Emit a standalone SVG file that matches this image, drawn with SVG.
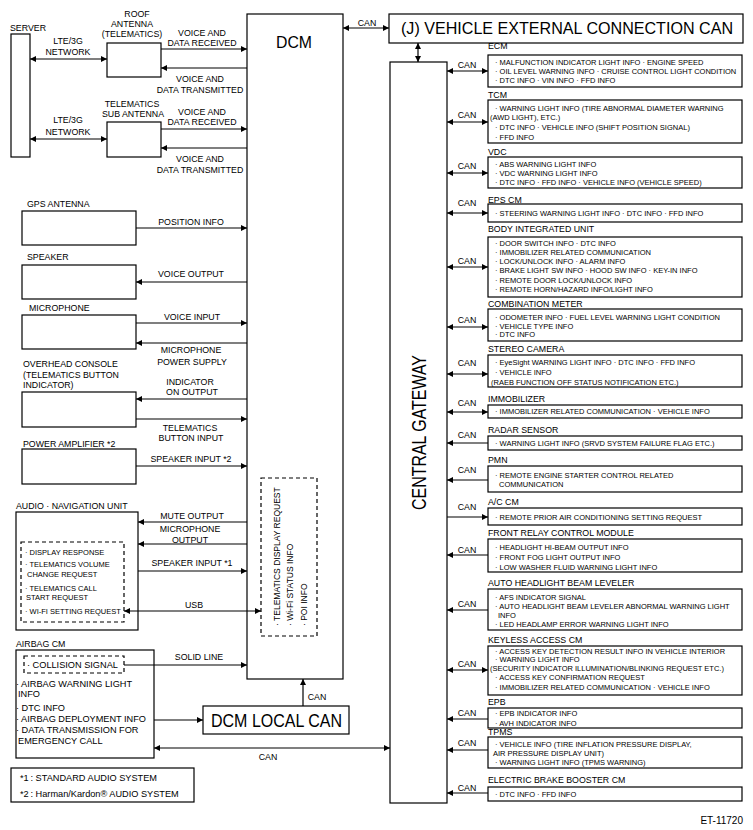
<svg xmlns="http://www.w3.org/2000/svg" width="753" height="830" viewBox="0 0 753 830">
<style>
.b{fill:none;stroke:#000;stroke-width:1.2}
.d{fill:none;stroke:#000;stroke-width:1.2;stroke-dasharray:4 3}
.l{fill:none;stroke:#000;stroke-width:1.2}
text{font-family:"Liberation Sans",Arial,sans-serif;fill:#000}
.t{font-size:8.8px}
.m{font-size:8.8px;text-anchor:middle}
.s{font-size:7.5px}
.a{font-size:9.2px}
.r{font-size:8.5px}
.big{font-size:19px}
</style>
<defs>
<marker id="ah" viewBox="0 0 6 6" refX="6" refY="3" markerWidth="6" markerHeight="6" markerUnits="userSpaceOnUse" orient="auto-start-reverse">
<path d="M0,0 L6,3 L0,6 z" fill="#000"/>
</marker>
</defs>
<rect width="753" height="830" fill="#fff"/>

<g id="server">
<rect class="b" x="11" y="34" width="19" height="123"/>
<text class="t" x="10" y="31">SERVER</text>
</g>

<g id="roof-antenna">
<rect class="b" x="107" y="43" width="54" height="34"/>
<text class="m" x="137" y="16.5">ROOF</text>
<text class="m" x="132" y="26.5">ANTENNA</text>
<text class="m" x="132" y="36.5">(TELEMATICS)</text>
</g>

<g id="sub-antenna">
<rect class="b" x="107" y="122" width="54" height="35"/>
<text class="m" x="132" y="106.5">TELEMATICS</text>
<text class="m" x="133" y="116.5">SUB ANTENNA</text>
</g>

<g id="dcm">
<rect class="b" x="247" y="14" width="96" height="665"/>
<text x="276" y="48" textLength="36" lengthAdjust="spacingAndGlyphs" style="font-size:17px">DCM</text>
<rect class="d" x="261" y="478" width="56" height="158"/>
<text class="r" transform="translate(280,626) rotate(-90)">· TELEMATICS DISPLAY REQUEST</text>
<text class="r" transform="translate(293,626) rotate(-90)">· Wi-Fi STATUS INFO</text>
<text class="r" transform="translate(307,626) rotate(-90)">· POI INFO</text>
</g>

<g id="vec-can">
<rect class="b" x="389" y="14" width="354" height="29"/>
<text x="401" y="34" textLength="332" lengthAdjust="spacingAndGlyphs" style="font-size:16.5px">(J) VEHICLE EXTERNAL CONNECTION CAN</text>
</g>

<g id="central-gateway">
<rect class="b" x="390" y="62" width="57" height="741"/>
<text transform="translate(426,510) rotate(-90)" textLength="155" lengthAdjust="spacingAndGlyphs" style="font-size:20px">CENTRAL GATEWAY</text>
</g>

<g id="gps-antenna">
<rect class="b" x="22" y="211" width="114" height="34"/>
<text class="t" x="27" y="206.5">GPS ANTENNA</text>
</g>

<g id="speaker">
<rect class="b" x="22" y="265" width="114" height="34"/>
<text class="t" x="27" y="259.5">SPEAKER</text>
</g>

<g id="microphone">
<rect class="b" x="22" y="315" width="114" height="34"/>
<text class="t" x="29" y="310.5">MICROPHONE</text>
</g>

<g id="overhead-console">
<rect class="b" x="22" y="392" width="114" height="35"/>
<text class="t" x="23" y="366.5">OVERHEAD CONSOLE</text>
<text class="t" x="23" y="377.5">(TELEMATICS BUTTON</text>
<text class="t" x="23" y="387.5">INDICATOR)</text>
</g>

<g id="power-amplifier">
<rect class="b" x="22" y="449" width="114" height="35"/>
<text class="t" x="23" y="446.5">POWER AMPLIFIER  *2</text>
</g>

<g id="audio-navigation">
<rect class="b" x="16" y="512" width="122" height="118"/>
<text class="t" x="16" y="508.5">AUDIO · NAVIGATION UNIT</text>
<rect class="d" x="21" y="542" width="103" height="80"/>
<text class="s" x="25" y="555">· DISPLAY RESPONSE</text>
<text class="s" x="25" y="567">· TELEMATICS VOLUME</text>
<text class="s" x="27" y="577">CHANGE REQUEST</text>
<text class="s" x="25" y="591">· TELEMATICS CALL</text>
<text class="s" x="26" y="600">START REQUEST</text>
<text class="s" x="25" y="614">· WI-FI SETTING REQUEST</text>
</g>

<g id="airbag-cm">
<rect class="b" x="16" y="650" width="138" height="108"/>
<text class="t" x="16" y="646.5">AIRBAG CM</text>
<rect class="d" x="24" y="656" width="100" height="17"/>
<text class="a" x="27" y="668.3">· COLLISION SIGNAL</text>
<text class="a" x="16" y="687.3">· AIRBAG WARNING LIGHT</text>
<text class="a" x="18" y="697.3">INFO</text>
<text class="a" x="16" y="711.3">· DTC INFO</text>
<text class="a" x="16" y="722.3">· AIRBAG DEPLOYMENT INFO</text>
<text class="a" x="16" y="733.3">· DATA TRANSMISSION FOR</text>
<text class="a" x="18" y="744.3">EMERGENCY CALL</text>
</g>

<g id="dcm-local-can">
<rect class="b" x="203" y="706" width="146" height="28"/>
<text x="211" y="727" textLength="131" lengthAdjust="spacingAndGlyphs" style="font-size:18px">DCM LOCAL CAN</text>
</g>

<g id="legend">
<rect class="b" x="11" y="768" width="183" height="34"/>
<text class="a" x="20" y="780.5">*1</text>
<text class="a" x="30.5" y="780.5">:  STANDARD AUDIO SYSTEM</text>
<text class="a" x="20" y="796.5">*2</text>
<text class="a" x="30.5" y="796.5">:  Harman/Kardon® AUDIO SYSTEM</text>
</g>

<g id="ecm">
<text class="t" x="488" y="48.5">ECM</text>
<rect class="b" x="488" y="55" width="254" height="32"/>
<text class="s" x="495" y="64.6">· MALFUNCTION INDICATOR LIGHT INFO · ENGINE SPEED</text>
<text class="s" x="495" y="73.6">· OIL LEVEL WARNING INFO · CRUISE CONTROL LIGHT CONDITION</text>
<text class="s" x="495" y="82.6">· DTC INFO · VIN INFO · FFD INFO</text>
</g>

<g id="tcm">
<text class="t" x="488" y="97.5">TCM</text>
<rect class="b" x="488" y="100" width="254" height="43"/>
<text class="s" x="495" y="110.6">· WARNING LIGHT INFO (TIRE ABNORMAL DIAMETER WARNING</text>
<text class="s" x="490" y="119.6">(AWD LIGHT), ETC.)</text>
<text class="s" x="495" y="129.6">· DTC INFO · VEHICLE INFO (SHIFT POSITION SIGNAL)</text>
<text class="s" x="495" y="139.6">· FFD INFO</text>
</g>

<g id="vdc">
<text class="t" x="488" y="154.5">VDC</text>
<rect class="b" x="488" y="157" width="254" height="31"/>
<text class="s" x="495" y="166.6">· ABS WARNING LIGHT INFO</text>
<text class="s" x="495" y="175.6">· VDC WARNING LIGHT INFO</text>
<text class="s" x="495" y="184.6">· DTC INFO · FFD INFO · VEHICLE INFO (VEHICLE SPEED)</text>
</g>

<g id="eps-cm">
<text class="t" x="488" y="202.5">EPS CM</text>
<rect class="b" x="488" y="204" width="254" height="18"/>
<text class="s" x="495" y="215.6">· STEERING WARNING LIGHT INFO · DTC INFO · FFD INFO</text>
</g>

<g id="body-integrated-unit">
<text class="t" x="488" y="231.5">BODY INTEGRATED UNIT</text>
<rect class="b" x="488" y="237" width="254" height="60"/>
<text class="s" x="495" y="245.6">· DOOR SWITCH INFO · DTC INFO</text>
<text class="s" x="495" y="254.6">· IMMOBILIZER RELATED COMMUNICATION</text>
<text class="s" x="495" y="263.6">· LOCK/UNLOCK INFO · ALARM INFO</text>
<text class="s" x="495" y="272.6">· BRAKE LIGHT SW INFO · HOOD SW INFO · KEY-IN INFO</text>
<text class="s" x="495" y="282.6">· REMOTE DOOR LOCK/UNLOCK INFO</text>
<text class="s" x="495" y="291.6">· REMOTE HORN/HAZARD INFO/LIGHT INFO</text>
</g>

<g id="combination-meter">
<text class="t" x="488" y="306.5">COMBINATION METER</text>
<rect class="b" x="488" y="309" width="254" height="32"/>
<text class="s" x="495" y="319.6">· ODOMETER INFO · FUEL LEVEL WARNING LIGHT CONDITION</text>
<text class="s" x="495" y="328.6">· VEHICLE TYPE INFO</text>
<text class="s" x="495" y="336.6">· DTC INFO</text>
</g>

<g id="stereo-camera">
<text class="t" x="488" y="351.5">STEREO CAMERA</text>
<rect class="b" x="488" y="355" width="254" height="32"/>
<text class="s" x="495" y="364.6">· EyeSight WARNING LIGHT INFO · DTC INFO · FFD INFO</text>
<text class="s" x="495" y="374.6">· VEHICLE INFO</text>
<text class="s" x="491" y="384.6">(RAEB FUNCTION OFF STATUS NOTIFICATION ETC.)</text>
</g>

<g id="immobilizer">
<text class="t" x="488" y="401.5">IMMOBILIZER</text>
<rect class="b" x="488" y="405" width="254" height="13"/>
<text class="s" x="495" y="414.4">· IMMOBILIZER RELATED COMMUNICATION · VEHICLE INFO</text>
</g>

<g id="radar-sensor">
<text class="t" x="488" y="432.5">RADAR SENSOR</text>
<rect class="b" x="488" y="436" width="254" height="14"/>
<text class="s" x="495" y="445.5">· WARNING LIGHT INFO (SRVD SYSTEM FAILURE FLAG ETC.)</text>
</g>

<g id="pmn">
<text class="t" x="488" y="462.5">PMN</text>
<rect class="b" x="488" y="466" width="254" height="26"/>
<text class="s" x="495" y="477.6">· REMOTE ENGINE STARTER CONTROL RELATED</text>
<text class="s" x="499" y="486.6">COMMUNICATION</text>
</g>

<g id="ac-cm">
<text class="t" x="488" y="504.5">A/C CM</text>
<rect class="b" x="488" y="508" width="254" height="17"/>
<text class="s" x="495" y="519.6">· REMOTE PRIOR AIR CONDITIONING SETTING REQUEST</text>
</g>

<g id="front-relay-control-module">
<text class="t" x="488" y="535.5">FRONT RELAY CONTROL MODULE</text>
<rect class="b" x="488" y="539" width="254" height="33"/>
<text class="s" x="495" y="549.6">· HEADLIGHT HI-BEAM OUTPUT INFO</text>
<text class="s" x="495" y="559.6">· FRONT FOG LIGHT OUTPUT INFO</text>
<text class="s" x="495" y="569.6">· LOW WASHER FLUID WARNING LIGHT INFO</text>
</g>

<g id="auto-headlight-beam-leveler">
<text class="t" x="488" y="585.5">AUTO HEADLIGHT BEAM LEVELER</text>
<rect class="b" x="488" y="589" width="254" height="41"/>
<text class="s" x="495" y="599.6">· AFS INDICATOR SIGNAL</text>
<text class="s" x="495" y="608.6">· AUTO HEADLIGHT BEAM LEVELER ABNORMAL WARNING LIGHT</text>
<text class="s" x="498" y="617.6">INFO</text>
<text class="s" x="495" y="626.6">· LED HEADLAMP ERROR WARNING LIGHT INFO</text>
</g>

<g id="keyless-access-cm">
<text class="t" x="488" y="642.5">KEYLESS ACCESS CM</text>
<rect class="b" x="488" y="646" width="254" height="49"/>
<text class="s" x="495" y="654">· ACCESS KEY DETECTION RESULT INFO IN VEHICLE INTERIOR</text>
<text class="s" x="495" y="662">· WARNING LIGHT INFO</text>
<text class="s" x="490" y="670.8">(SECURITY INDICATOR ILLUMINATION/BLINKING REQUEST ETC.)</text>
<text class="s" x="495" y="679.6">· ACCESS KEY CONFIRMATION REQUEST</text>
<text class="s" x="495" y="689.6">· IMMOBILIZER RELATED COMMUNICATION · VEHICLE INFO</text>
</g>

<g id="epb">
<text class="t" x="488" y="704.5">EPB</text>
<rect class="b" x="488" y="708" width="254" height="20"/>
<text class="s" x="495" y="716.4">· EPB INDICATOR INFO</text>
<text class="s" x="495" y="725.6">· AVH INDICATOR INFO</text>
</g>

<g id="tpms">
<text class="t" x="488" y="734.8">TPMS</text>
<rect class="b" x="488" y="737" width="254" height="31"/>
<text class="s" x="495" y="746.6">· VEHICLE INFO (TIRE INFLATION PRESSURE DISPLAY,</text>
<text class="s" x="493" y="755.6">AIR PRESSURE DISPLAY UNIT)</text>
<text class="s" x="495" y="764.6">· WARNING LIGHT INFO (TPMS WARNING)</text>
</g>

<g id="electric-brake-booster-cm">
<text class="t" x="488" y="782.5">ELECTRIC BRAKE BOOSTER CM</text>
<rect class="b" x="488" y="787" width="254" height="14"/>
<text class="s" x="495" y="797.4">· DTC INFO · FFD INFO</text>
</g>

<g id="connectors">
<path class="l" d="M30,59 H107" marker-start="url(#ah)" marker-end="url(#ah)"/>
<path class="l" d="M30,139 H107" marker-start="url(#ah)" marker-end="url(#ah)"/>
<path class="l" d="M161,49 H247" marker-end="url(#ah)"/>
<path class="l" d="M247,68 H161" marker-end="url(#ah)"/>
<path class="l" d="M161,129 H247" marker-end="url(#ah)"/>
<path class="l" d="M247,148 H161" marker-end="url(#ah)"/>
<path class="l" d="M136,228 H247" marker-end="url(#ah)"/>
<path class="l" d="M247,282 H136" marker-end="url(#ah)"/>
<path class="l" d="M136,323 H247" marker-end="url(#ah)"/>
<path class="l" d="M247,343 H136" marker-end="url(#ah)"/>
<path class="l" d="M247,399 H136" marker-end="url(#ah)"/>
<path class="l" d="M136,419 H247" marker-end="url(#ah)"/>
<path class="l" d="M136,466 H247" marker-end="url(#ah)"/>
<path class="l" d="M247,522 H138" marker-end="url(#ah)"/>
<path class="l" d="M247,544 H138" marker-end="url(#ah)"/>
<path class="l" d="M138,571 H247" marker-end="url(#ah)"/>
<path class="l" d="M124,611 H261" marker-start="url(#ah)" marker-end="url(#ah)"/>
<path class="l" d="M124,665 H247" marker-end="url(#ah)"/>
<path class="l" d="M154,720 H203" marker-end="url(#ah)"/>
<path class="l" d="M303,706 V679" marker-end="url(#ah)"/>
<path class="l" d="M154,748 H390" marker-start="url(#ah)" marker-end="url(#ah)"/>
<path class="l" d="M343,28 H389" marker-start="url(#ah)" marker-end="url(#ah)"/>
<path class="l" d="M418,43 V62" marker-start="url(#ah)" marker-end="url(#ah)"/>
<path class="l" d="M447,71 H488" marker-start="url(#ah)" marker-end="url(#ah)"/>
<path class="l" d="M447,122 H488" marker-start="url(#ah)" marker-end="url(#ah)"/>
<path class="l" d="M447,173 H488" marker-start="url(#ah)" marker-end="url(#ah)"/>
<path class="l" d="M447,213 H488" marker-start="url(#ah)" marker-end="url(#ah)"/>
<path class="l" d="M447,267 H488" marker-start="url(#ah)" marker-end="url(#ah)"/>
<path class="l" d="M447,327 H488" marker-start="url(#ah)" marker-end="url(#ah)"/>
<path class="l" d="M447,374 H488" marker-start="url(#ah)" marker-end="url(#ah)"/>
<path class="l" d="M447,412 H488" marker-start="url(#ah)" marker-end="url(#ah)"/>
<path class="l" d="M488,443 H447" marker-end="url(#ah)"/>
<path class="l" d="M488,480 H447" marker-end="url(#ah)"/>
<path class="l" d="M447,517 H488" marker-end="url(#ah)"/>
<path class="l" d="M488,555 H447" marker-end="url(#ah)"/>
<path class="l" d="M488,610 H447" marker-end="url(#ah)"/>
<path class="l" d="M447,670 H488" marker-start="url(#ah)" marker-end="url(#ah)"/>
<path class="l" d="M488,719 H447" marker-end="url(#ah)"/>
<path class="l" d="M488,750 H447" marker-end="url(#ah)"/>
<path class="l" d="M488,793 H447" marker-end="url(#ah)"/>

<text class="m" x="68" y="43.5">LTE/3G</text>
<text class="m" x="68" y="54.5">NETWORK</text>
<text class="m" x="68" y="122.5">LTE/3G</text>
<text class="m" x="68" y="134.5">NETWORK</text>
<text class="m" x="202" y="35.5">VOICE AND</text>
<text class="m" x="202" y="45.5">DATA RECEIVED</text>
<text class="m" x="200" y="81.5">VOICE AND</text>
<text class="m" x="200" y="92.5">DATA TRANSMITTED</text>
<text class="m" x="202" y="114.5">VOICE AND</text>
<text class="m" x="202" y="124.5">DATA RECEIVED</text>
<text class="m" x="200" y="161.5">VOICE AND</text>
<text class="m" x="200" y="172.5">DATA TRANSMITTED</text>
<text class="m" x="191" y="224.5">POSITION INFO</text>
<text class="m" x="191" y="276.5">VOICE OUTPUT</text>
<text class="m" x="192" y="319.5">VOICE INPUT</text>
<text class="m" x="191" y="352.5">MICROPHONE</text>
<text class="m" x="192" y="364.5">POWER SUPPLY</text>
<text class="m" x="190" y="384.5">INDICATOR</text>
<text class="m" x="192" y="394.5">ON OUTPUT</text>
<text class="m" x="190" y="430.5">TELEMATICS</text>
<text class="m" x="191" y="440.5">BUTTON INPUT</text>
<text class="m" x="191" y="462">SPEAKER INPUT  *2</text>
<text class="m" x="192" y="518.5">MUTE OUTPUT</text>
<text class="m" x="190" y="531.5">MICROPHONE</text>
<text class="m" x="190" y="542.5">OUTPUT</text>
<text class="m" x="192" y="565.5">SPEAKER INPUT  *1</text>
<text class="m" x="194" y="607.5">USB</text>
<text class="m" x="199" y="659.5">SOLID LINE</text>
<text class="m" x="317" y="699.5">CAN</text>
<text class="m" x="268" y="759.5">CAN</text>
<text class="m" x="367" y="26">CAN</text>
<text class="m" x="467" y="68">CAN</text>
<text class="m" x="467" y="118">CAN</text>
<text class="m" x="467" y="169">CAN</text>
<text class="m" x="467" y="206">CAN</text>
<text class="m" x="467" y="264">CAN</text>
<text class="m" x="467" y="323">CAN</text>
<text class="m" x="467" y="366">CAN</text>
<text class="m" x="467" y="406">CAN</text>
<text class="m" x="467" y="438">CAN</text>
<text class="m" x="467" y="473">CAN</text>
<text class="m" x="467" y="510">CAN</text>
<text class="m" x="467" y="553">CAN</text>
<text class="m" x="467" y="607">CAN</text>
<text class="m" x="467" y="667">CAN</text>
<text class="m" x="467" y="716">CAN</text>
<text class="m" x="467" y="746">CAN</text>
<text class="m" x="467" y="791">CAN</text>
</g>

<text x="743" y="824" style="font-size:10px;text-anchor:end">ET-11720</text>
</svg>
